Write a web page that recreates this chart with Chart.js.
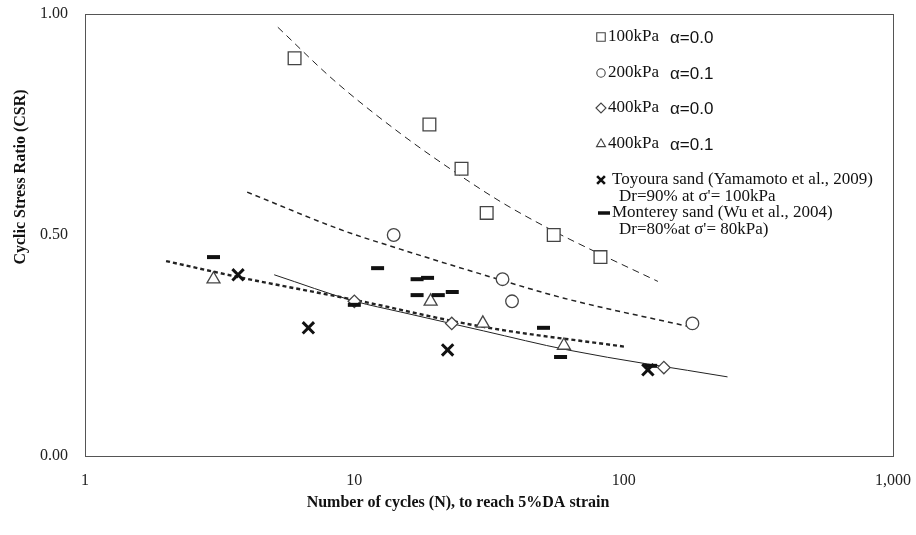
<!DOCTYPE html>
<html>
<head>
<meta charset="utf-8">
<script src="https://cdn.jsdelivr.net/npm/chart.js@4.4.1/dist/chart.umd.min.js"></script>
<style>
  html, body { margin: 0; padding: 0; background: #fff; }
  #wrap { width: 916px; height: 535px; }
</style>
</head>
<body>
<div id="wrap"><canvas id="csr" width="916" height="535" role="img" aria-label="Cyclic stress ratio against number of cycles"></canvas></div>
<script>
// axis ticks
const xTickValues = [1, 10, 100, 1000];
const xTickLabels = ['1', '10', '100', '1,000'];
const yTickValues = [0, 0.5, 1.0];
const yTickLabels = ['0.00', '0.50', '1.00'];

const xTitle = 'Number of cycles (N), to reach 5%DA strain';
const yTitle = 'Cyclic Stress Ratio (CSR)';

// test results: cycles N and CSR
const n100a00 = [6, 19, 25, 31, 55, 82];
const csr100a00 = [0.90, 0.75, 0.65, 0.55, 0.50, 0.45];
const n200a01 = [14, 35.5, 38.5, 180];
const csr200a01 = [0.50, 0.40, 0.35, 0.30];
const n400a00 = [10, 23, 141];
const csr400a00 = [0.35, 0.30, 0.20];
const n400a01 = [3, 19.2, 30, 60];
const csr400a01 = [0.40, 0.35, 0.30, 0.25];
const nToyoura = [3.7, 6.75, 22.2, 123];
const csrToyoura = [0.41, 0.29, 0.24, 0.195];
const nMonterey = [3, 10, 12.2, 17.1, 17.1, 18.7, 20.5, 23.1, 50.4, 58.3, 126];
const csrMonterey = [0.45, 0.342, 0.425, 0.40, 0.364, 0.403, 0.364, 0.371, 0.29, 0.224, 0.204];

// trend curves
const fit100N = [5.2, 8.4, 14.8, 23.3, 35, 54.5, 83, 134];
const fit100Csr = [0.97, 0.85, 0.73, 0.645, 0.575, 0.51, 0.455, 0.395];
const fit200N = [4.0, 9.1, 14.8, 29.4, 60, 177];
const fit200Csr = [0.597, 0.51, 0.468, 0.412, 0.357, 0.292];
const fit400N = [5.04, 10.05, 14.8, 30.2, 61.9, 243];
const fit400Csr = [0.41, 0.35, 0.326, 0.283, 0.24, 0.179];
const fitMontereyN = [2.0, 3.7, 10.05, 30.2, 101.7];
const fitMontereyCsr = [0.441, 0.405, 0.353, 0.292, 0.247];

// legend text
const legendNames = ['100kPa', '200kPa', '400kPa', '400kPa'];
const legendAlphas = ['\u03B1=0.0', '\u03B1=0.1', '\u03B1=0.0', '\u03B1=0.1'];
const legendToyoura = ['Toyoura sand (Yamamoto et al., 2009)', "Dr=90% at \u03C3'= 100kPa"];
const legendMonterey = ['Monterey sand (Wu et al., 2004)', "Dr=80%at \u03C3'= 80kPa)"];

const pts = (xs, ys) => xs.map((x, i) => ({ x: x, y: ys[i] }));

const serif = '"Liberation Serif", "Times New Roman", serif';
const sans = '"Liberation Sans", Arial, sans-serif';
const ink = '#222';
const markEdge = '#444';

function marker(data, style, radius, width, color) {
  return {
    data: data, showLine: false, pointStyle: style, pointRadius: radius,
    pointBorderWidth: width, borderColor: color || markEdge, backgroundColor: '#fff'
  };
}
function curve(data, dash, width) {
  return {
    data: data, showLine: true, pointRadius: 0, borderColor: ink, borderWidth: width,
    borderDash: dash, cubicInterpolationMode: 'monotone', fill: false
  };
}

// keep tick-label overflow from pushing the plot box around
function noPad(s) {
  s.paddingTop = 0; s.paddingBottom = 0; s.paddingLeft = 0; s.paddingRight = 0;
}

const frame = {
  id: 'frame',
  beforeDatasetsDraw(chart) {
    const { ctx, chartArea: a } = chart;
    ctx.save();
    ctx.strokeStyle = '#555';
    ctx.lineWidth = 1;
    ctx.strokeRect(a.left + 0.5, a.top + 0.5, a.right - a.left, a.bottom - a.top);
    ctx.fillStyle = '#111';
    ctx.font = 'bold 16px ' + serif;
    ctx.textAlign = 'center';
    ctx.textBaseline = 'middle';
    ctx.fillText(xTitle, 458, 503);
    ctx.translate(21, 177);
    ctx.rotate(-Math.PI / 2);
    ctx.fillText(yTitle, 0, 0);
    ctx.restore();
  },
  afterDraw(chart) {
    const ctx = chart.ctx;
    const draw = Chart.helpers.drawPoint;
    const mx = 601;
    ctx.save();
    ctx.textBaseline = 'middle';
    ctx.textAlign = 'left';
    const styles = [['rect', 6], ['circle', 4.2], ['rectRot', 5], ['triangle', 5.2]];
    const rowsY = [37, 73, 108, 144];
    styles.forEach((s, i) => {
      ctx.strokeStyle = markEdge;
      ctx.fillStyle = '#fff';
      ctx.lineWidth = 1.1;
      draw(ctx, { pointStyle: s[0], radius: s[1], borderWidth: 1.1, rotation: 0 }, mx, rowsY[i]);
      ctx.fillStyle = '#111';
      ctx.font = '17px ' + serif;
      ctx.fillText(legendNames[i], 608, rowsY[i]);
      ctx.font = '17px ' + sans;
      ctx.fillText(legendAlphas[i], 670, rowsY[i] + 1);
    });
    ctx.strokeStyle = '#111';
    ctx.lineWidth = 2.6;
    draw(ctx, { pointStyle: 'crossRot', radius: 5.5, borderWidth: 2.6, rotation: 0 }, mx, 180);
    ctx.lineWidth = 3.5;
    draw(ctx, { pointStyle: 'line', radius: 6, borderWidth: 3.5, rotation: 0 }, 604, 213);
    ctx.fillStyle = '#111';
    ctx.font = '17px ' + serif;
    ctx.fillText(legendToyoura[0], 612, 180);
    ctx.fillText(legendToyoura[1], 619, 197);
    ctx.fillText(legendMonterey[0], 612, 213);
    ctx.fillText(legendMonterey[1], 619, 230);
    ctx.restore();
  }
};

new Chart(document.getElementById('csr'), {
  type: 'scatter',
  data: {
    datasets: [
      marker(pts(nToyoura, csrToyoura), 'crossRot', 8, 3, '#111'),
      marker(pts(nMonterey, csrMonterey), 'line', 6.5, 4, '#111'),
      marker(pts(n100a00, csr100a00), 'rect', 9, 1.3),
      marker(pts(n200a01, csr200a01), 'circle', 6.3, 1.3),
      marker(pts(n400a00, csr400a00), 'rectRot', 6.2, 1.3),
      marker(pts(n400a01, csr400a01), 'triangle', 7.5, 1.3),
      curve(pts(fit100N, fit100Csr), [7, 5], 1),
      curve(pts(fit200N, fit200Csr), [5, 4], 1.5),
      curve(pts(fit400N, fit400Csr), [], 1),
      curve(pts(fitMontereyN, fitMontereyCsr), [4, 3], 2.4)
    ]
  },
  options: {
    responsive: false, animation: false, events: [],
    layout: { padding: { top: 14, right: 23, bottom: 0, left: 0 } },
    plugins: { legend: { display: false }, tooltip: { enabled: false } },
    scales: {
      x: {
        type: 'logarithmic', min: 1, max: 1000,
        afterBuildTicks: s => { s.ticks = xTickValues.map(v => ({ value: v })); },
        afterFit: s => { s.height = 79; noPad(s); },
        grid: { display: false, drawTicks: false }, border: { display: false },
        ticks: {
          autoSkip: false, maxRotation: 0, padding: 15, color: ink,
          font: { family: serif, size: 16 },
          callback: v => xTickLabels[xTickValues.indexOf(v)]
        }
      },
      y: {
        min: 0, max: 1,
        afterBuildTicks: s => { s.ticks = yTickValues.map(v => ({ value: v })); },
        afterFit: s => { s.width = 85; noPad(s); },
        grid: { display: false, drawTicks: false }, border: { display: false },
        ticks: {
          padding: 17, color: ink, font: { family: serif, size: 16 },
          callback: v => yTickLabels[yTickValues.indexOf(v)]
        }
      }
    }
  },
  plugins: [frame]
});
</script>
</body>
</html>
